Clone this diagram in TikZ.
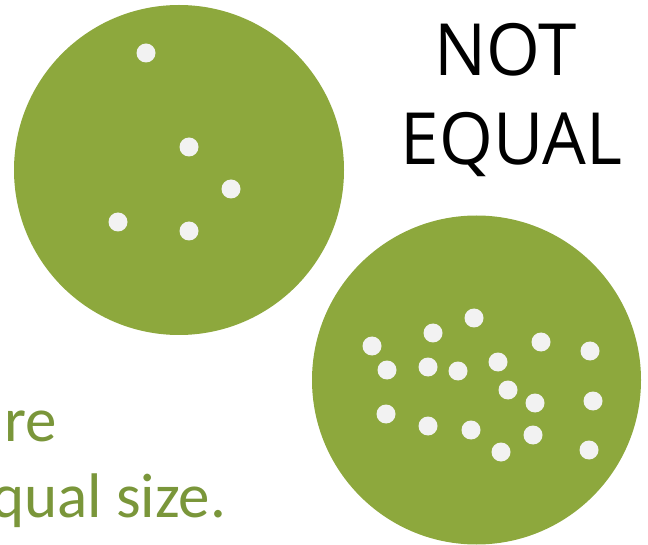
\documentclass[tikz,border=0pt]{standalone}
\usepackage{fontspec}
\setmainfont{Carlito}
\newfontfamily\capsfont{Open Sans}
\definecolor{disc}{RGB}{141,168,61}
\definecolor{dotc}{RGB}{242,242,242}
\definecolor{txtg}{RGB}{122,150,58}
\begin{document}
\begin{tikzpicture}[x=1pt,y=-1pt,
  disk/.style={circle,fill=disc,minimum size=#1,inner sep=0pt},
  spot/.style={circle,fill=dotc,minimum size=19pt,inner sep=0pt},
  big/.style={font=\capsfont\fontsize{72}{86}\selectfont,text=black,inner sep=0pt,xscale=0.96},
  green/.style={font=\fontsize{63}{76}\selectfont,text=txtg,inner sep=0pt,anchor=base west}]
\useasboundingbox (0,0) rectangle (648,545);
\clip (0,0) rectangle (648,545);
\node[disk=330pt] (c1) at (179,170) {};
\node[disk=329pt] (c2) at (476.5,380) {};
\foreach \p [count=\i] in {(146,53),(189,147),(231,189),(118,222),(189,231)}
  \node[spot] (a\i) at \p {};
\foreach \p [count=\i] in {(372,346),(387,370),(433,333),(428,367),(474,318),(458,371),(498,362),(541,342),(590,351),(508,390),(535,403),(593,401),(386,414),(428,426),(471,430),(533,435),(501,452),(589,450)}
  \node[spot] (b\i) at \p {};
\node[big] (t1) at (505.5,50) {NOT};
\node[big] (t2) at (511.5,145) {EQUAL};
\node[green] (g1) at (4,441) {re};
\node[green] (g2) at (-9,517) {qual size.};
\end{tikzpicture}
\end{document}
